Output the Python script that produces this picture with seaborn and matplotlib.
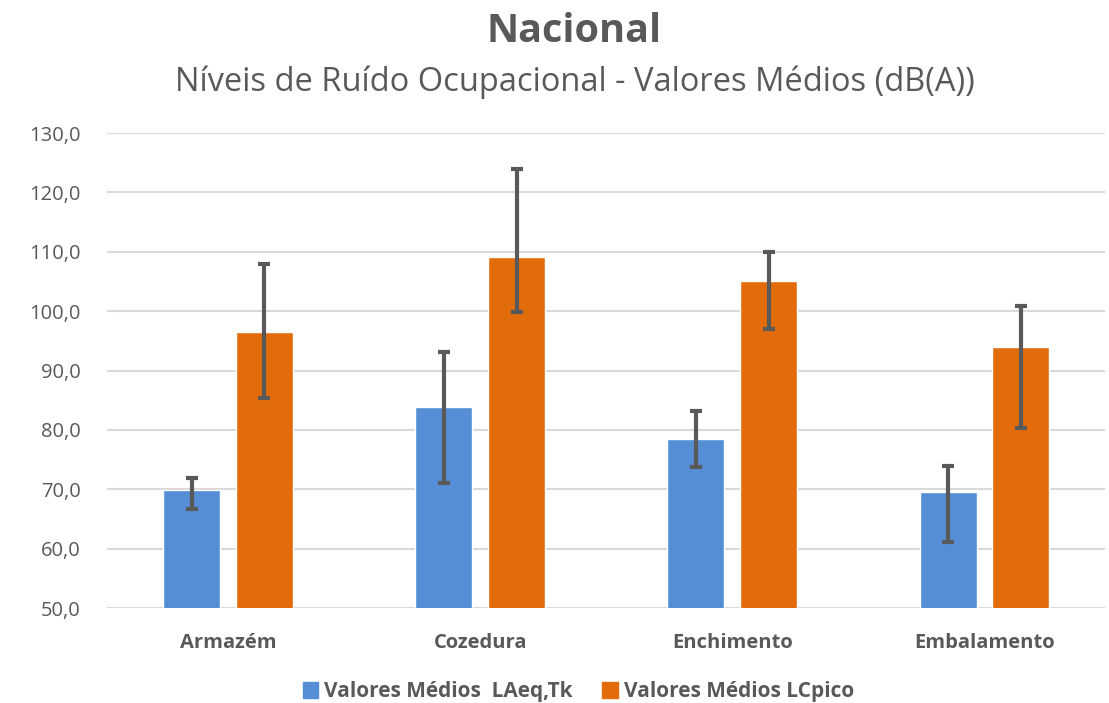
import pandas as pd
import numpy as np
import matplotlib
matplotlib.use('Agg')
import matplotlib.pyplot as plt
from matplotlib.ticker import FuncFormatter, MultipleLocator
import seaborn as sns

# chart data
sectors = ['Armazém', 'Cozedura', 'Enchimento', 'Embalamento']
series_names = ['Valores Médios  LAeq,Tk', 'Valores Médios LCpico']
laeq_mean = [69.8, 83.8, 78.4, 69.6]
laeq_low = [66.7, 71.0, 73.7, 61.2]
laeq_high = [71.9, 93.1, 83.2, 74.0]
lcpico_mean = [96.5, 109.2, 105.0, 94.0]
lcpico_low = [85.4, 99.9, 97.0, 80.3]
lcpico_high = [107.9, 123.9, 110.0, 100.9]

colors = ['#558ED5', '#E36C0A']
grey = '#595959'

sns.set_style('white')
plt.rcParams['font.family'] = ['Open Sans', 'DejaVu Sans']

df = pd.DataFrame({
    'Setor': sectors * 2,
    'Serie': [series_names[0]] * 4 + [series_names[1]] * 4,
    'Valor': laeq_mean + lcpico_mean,
})

fig = plt.figure(figsize=(11.09, 7.03), dpi=100)
ax = fig.add_axes([0.0965, 0.1351, 0.8995, 0.6757])

sns.barplot(data=df, x='Setor', y='Valor', hue='Serie', order=sectors,
            hue_order=series_names, palette=colors, width=0.578, gap=0.218,
            errorbar=None, ax=ax, legend=False, saturation=1)

# asymmetric error bars (min / max)
for cont, mean, low, high in zip(ax.containers,
                                 [laeq_mean, lcpico_mean],
                                 [laeq_low, lcpico_low],
                                 [laeq_high, lcpico_high]):
    xs = [p.get_x() + p.get_width() / 2 for p in cont.patches]
    mean = np.array(mean)
    yerr = [mean - np.array(low), np.array(high) - mean]
    ax.errorbar(xs, mean, yerr=yerr, fmt='none', ecolor=grey,
                elinewidth=3, capsize=4.5, capthick=3, zorder=5)

ax.set_xlim(-0.4795, 3.476)
ax.set_ylim(50, 130)
ax.yaxis.set_major_locator(MultipleLocator(10))
ax.yaxis.set_major_formatter(FuncFormatter(lambda v, p: f'{v:.1f}'.replace('.', ',')))
ax.grid(axis='y', color='#d9d9d9', linewidth=1.5)
ax.set_axisbelow(True)
for s in ax.spines.values():
    s.set_visible(False)
ax.tick_params(axis='y', length=0, labelsize=14.5, labelcolor=grey, pad=19)
ax.tick_params(axis='x', length=0, labelsize=14.5, labelcolor=grey, pad=18)
for lbl in ax.get_xticklabels():
    lbl.set_fontweight('bold')
ax.set_xlabel('')
ax.set_ylabel('')

fig.text(0.518, 0.955, 'Nacional', ha='center', va='center', fontsize=28.5,
         fontweight='bold', color=grey)
fig.text(0.518, 0.883, 'Níveis de Ruído Ocupacional - Valores Médios (dB(A))',
         ha='center', va='center', fontsize=23.5, color=grey)

handles = [plt.Rectangle((0, 0), 1, 1, color=c) for c in colors]
leg = fig.legend(handles, series_names, loc='center', bbox_to_anchor=(0.5216, 0.016),
                 ncol=2, frameon=False, handlelength=0.75, handleheight=0.75,
                 handletextpad=0.3, columnspacing=1.4, prop={'size': 15, 'weight': 'bold'})
for t in leg.get_texts():
    t.set_color(grey)

fig.savefig('out.png', dpi=100)
